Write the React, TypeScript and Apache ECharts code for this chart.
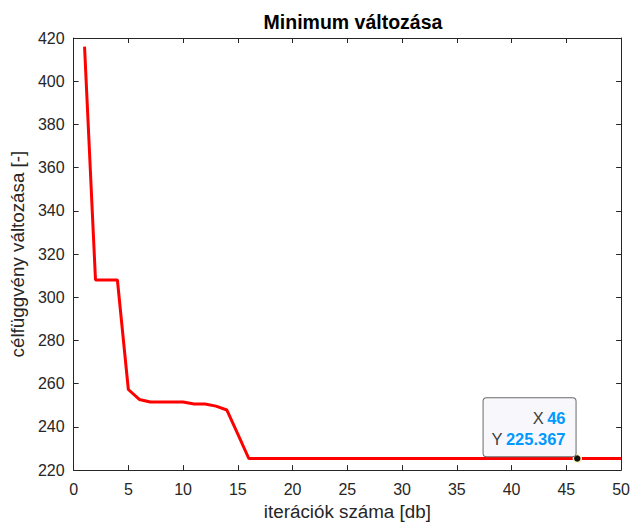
import React, { useEffect, useRef } from "react";
import * as echarts from "echarts";

const titleText = "Minimum változása";
const xName = "iterációk száma [db]";
const yName = "célfüggvény változása [-]";

const iterations = [
  1, 2, 3, 4, 5, 6, 7, 8, 9, 10,
  11, 12, 13, 14, 15, 16, 17, 18, 19, 20,
  21, 22, 23, 24, 25, 26, 27, 28, 29, 30,
  31, 32, 33, 34, 35, 36, 37, 38, 39, 40,
  41, 42, 43, 44, 45, 46, 47, 48, 49, 50,
];
const minValues = [
  416, 308, 308, 308, 257.3, 252.7, 251.5, 251.5, 251.5, 251.5,
  250.6, 250.6, 249.6, 247.8, 236.6, 225.367, 225.367, 225.367, 225.367, 225.367,
  225.367, 225.367, 225.367, 225.367, 225.367, 225.367, 225.367, 225.367, 225.367, 225.367,
  225.367, 225.367, 225.367, 225.367, 225.367, 225.367, 225.367, 225.367, 225.367, 225.367,
  225.367, 225.367, 225.367, 225.367, 225.367, 225.367, 225.367, 225.367, 225.367, 225.367,
];
const tipX = 46;
const tipY = 225.367;

const FONT = "'Liberation Sans', Arial, Helvetica, sans-serif";
const AXIS_COLOR = "#262626";

export default function App() {
  const ref = useRef<HTMLDivElement>(null);
  useEffect(() => {
    if (!ref.current) return;
    const chart = echarts.init(ref.current, null, { renderer: "svg" });
    const data = iterations.map((x, i) => [x, minValues[i]]);
    const xCommon = {
      type: "value" as const,
      min: 0,
      max: 50,
      interval: 5,
      splitLine: { show: false },
      axisLine: { show: true, onZero: false, lineStyle: { color: AXIS_COLOR, width: 1 } },
      axisTick: { show: true, inside: true, length: 5, lineStyle: { color: AXIS_COLOR } },
    };
    const yCommon = {
      type: "value" as const,
      min: 220,
      max: 420,
      interval: 20,
      splitLine: { show: false },
      axisLine: { show: true, onZero: false, lineStyle: { color: AXIS_COLOR, width: 1 } },
      axisTick: { show: true, inside: true, length: 5, lineStyle: { color: AXIS_COLOR } },
    };
    chart.setOption({
      animation: false,
      backgroundColor: "#ffffff",
      textStyle: { fontFamily: FONT },
      title: {
        text: titleText,
        left: 348,
        textAlign: "center",
        top: 7,
        textStyle: { fontFamily: FONT, fontSize: 19.5, fontWeight: "bold", color: "#000000" },
      },
      grid: { left: 72, right: 9, top: 38, bottom: 52, containLabel: false },
      xAxis: [
        {
          ...xCommon,
          position: "bottom",
          name: xName,
          nameLocation: "middle",
          nameGap: 31,
          nameTextStyle: { fontFamily: FONT, fontSize: 18.8, color: AXIS_COLOR },
          axisLabel: { show: true, margin: 11, fontFamily: FONT, fontSize: 16, color: AXIS_COLOR },
        },
        { ...xCommon, position: "top", axisLabel: { show: false } },
      ],
      yAxis: [
        {
          ...yCommon,
          position: "left",
          name: yName,
          nameLocation: "middle",
          nameGap: 36,
          nameTextStyle: { fontFamily: FONT, fontSize: 18.8, color: AXIS_COLOR },
          axisLabel: { show: true, margin: 9, fontFamily: FONT, fontSize: 16, color: AXIS_COLOR },
        },
        { ...yCommon, position: "right", axisLabel: { show: false } },
      ],
      series: [
        {
          type: "line",
          xAxisIndex: 0,
          yAxisIndex: 0,
          data,
          showSymbol: false,
          symbol: "none",
          lineStyle: { color: "#ff0000", width: 3 },
          markPoint: {
            silent: true,
            symbol: "circle",
            symbolSize: 8,
            itemStyle: { color: "#111111", borderColor: "#fff8c8", borderWidth: 1.5 },
            data: [{ coord: [tipX, tipY] }],
            label: {
              show: true,
              position: [3, 2.5],
              align: "right",
              verticalAlign: "bottom",
              formatter: `{k|X} {v|${tipX}}\n{k|Y} {v|${tipY}}`,
              backgroundColor: "#f8f8fc",
              borderColor: "#6a6a6a",
              borderWidth: 1,
              borderRadius: 3,
              padding: [9, 10, 7, 8],
              lineHeight: 21,
              rich: {
                k: { fontFamily: FONT, fontSize: 16.5, color: "#404040", lineHeight: 21 },
                v: { fontFamily: FONT, fontSize: 16.5, fontWeight: "bold", color: "#0099ff", lineHeight: 21 },
              },
            },
          },
        },
      ],
    });
    return () => chart.dispose();
  }, []);
  return <div ref={ref} style={{ width: 633, height: 526, position: "absolute", left: 0, top: 0 }} />;
}
